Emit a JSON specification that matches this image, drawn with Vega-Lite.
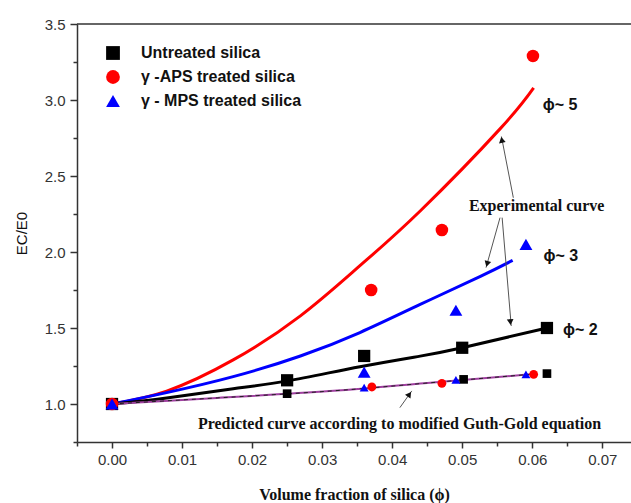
{
  "$schema": "https://vega.github.io/schema/vega-lite/v6.json",
  "width": 554,
  "height": 418,
  "autosize": {"type": "none"},
  "padding": {"left": 77, "top": 24, "right": 0, "bottom": 61},
  "background": "white",
  "config": {"view": {"stroke": null}, "axis": {"grid": false}},
  "datasets": {
    "curves": [
      {"curve": "red", "phi": 0, "ratio": 1.0},
      {"curve": "red", "phi": 0.0078, "ratio": 1.085},
      {"curve": "red", "phi": 0.0173, "ratio": 1.29},
      {"curve": "red", "phi": 0.0269, "ratio": 1.58},
      {"curve": "red", "phi": 0.0354, "ratio": 1.91},
      {"curve": "red", "phi": 0.044, "ratio": 2.27},
      {"curve": "red", "phi": 0.0554, "ratio": 2.81},
      {"curve": "red", "phi": 0.0602, "ratio": 3.08},
      {"curve": "blue", "phi": 0, "ratio": 1.0},
      {"curve": "blue", "phi": 0.0078, "ratio": 1.075},
      {"curve": "blue", "phi": 0.0173, "ratio": 1.18},
      {"curve": "blue", "phi": 0.0269, "ratio": 1.316},
      {"curve": "blue", "phi": 0.0354, "ratio": 1.47},
      {"curve": "blue", "phi": 0.044, "ratio": 1.655},
      {"curve": "blue", "phi": 0.0526, "ratio": 1.84},
      {"curve": "blue", "phi": 0.0572, "ratio": 1.945},
      {"curve": "black", "phi": 0, "ratio": 1.0},
      {"curve": "black", "phi": 0.0078, "ratio": 1.04},
      {"curve": "black", "phi": 0.0173, "ratio": 1.10},
      {"curve": "black", "phi": 0.025, "ratio": 1.152},
      {"curve": "black", "phi": 0.0354, "ratio": 1.245},
      {"curve": "black", "phi": 0.044, "ratio": 1.315},
      {"curve": "black", "phi": 0.05, "ratio": 1.37},
      {"curve": "black", "phi": 0.0621, "ratio": 1.50},
      {"curve": "pred", "phi": 0, "ratio": 1.0},
      {"curve": "pred", "phi": 0.015, "ratio": 1.04},
      {"curve": "pred", "phi": 0.0311, "ratio": 1.085},
      {"curve": "pred", "phi": 0.045, "ratio": 1.138},
      {"curve": "pred", "phi": 0.0597, "ratio": 1.195}
    ],
    "points": [
      {"kind": "exp", "series": "Untreated silica", "phi": 0, "ratio": 1.0},
      {"kind": "exp", "series": "Untreated silica", "phi": 0.025, "ratio": 1.156},
      {"kind": "exp", "series": "Untreated silica", "phi": 0.036, "ratio": 1.316},
      {"kind": "exp", "series": "Untreated silica", "phi": 0.05, "ratio": 1.37},
      {"kind": "exp", "series": "Untreated silica", "phi": 0.0621, "ratio": 1.5},
      {"kind": "exp", "series": "γ -APS treated silica", "phi": 0, "ratio": 1.0},
      {"kind": "exp", "series": "γ -APS treated silica", "phi": 0.037, "ratio": 1.75},
      {"kind": "exp", "series": "γ -APS treated silica", "phi": 0.0471, "ratio": 2.145},
      {"kind": "exp", "series": "γ -APS treated silica", "phi": 0.0601, "ratio": 3.29},
      {"kind": "exp", "series": "γ - MPS treated silica", "phi": 0, "ratio": 1.0},
      {"kind": "exp", "series": "γ - MPS treated silica", "phi": 0.036, "ratio": 1.21},
      {"kind": "exp", "series": "γ - MPS treated silica", "phi": 0.0491, "ratio": 1.617},
      {"kind": "exp", "series": "γ - MPS treated silica", "phi": 0.0591, "ratio": 2.05},
      {"kind": "pred", "series": "Untreated silica", "phi": 0.025, "ratio": 1.068},
      {"kind": "pred", "series": "Untreated silica", "phi": 0.0502, "ratio": 1.162},
      {"kind": "pred", "series": "Untreated silica", "phi": 0.0621, "ratio": 1.2},
      {"kind": "pred", "series": "γ - MPS treated silica", "phi": 0.036, "ratio": 1.107},
      {"kind": "pred", "series": "γ - MPS treated silica", "phi": 0.0491, "ratio": 1.158},
      {"kind": "pred", "series": "γ - MPS treated silica", "phi": 0.0591, "ratio": 1.195},
      {"kind": "pred", "series": "γ -APS treated silica", "phi": 0.0371, "ratio": 1.112},
      {"kind": "pred", "series": "γ -APS treated silica", "phi": 0.0471, "ratio": 1.136},
      {"kind": "pred", "series": "γ -APS treated silica", "phi": 0.0602, "ratio": 1.195}
    ],
    "arrows": [
      {"id": "a1", "phi": 0.0573, "ratio": 2.357, "phi2": 0.0556, "ratio2": 2.76, "hphi": 0.05565, "hratio": 2.7375},
      {"id": "a2", "phi": 0.0554, "ratio": 2.226, "phi2": 0.0534, "ratio2": 1.897, "hphi": 0.05356, "hratio": 1.922},
      {"id": "a3", "phi": 0.0557, "ratio": 2.226, "phi2": 0.057, "ratio2": 1.513, "hphi": 0.05688, "hratio": 1.539},
      {"id": "a4", "phi": 0.0411, "ratio": 0.976, "phi2": 0.0428, "ratio2": 1.086, "hphi": 0.04246, "hratio": 1.064}
    ],
    "phiNotes": [
      {"phi": 0.0615, "ratio": 2.97, "text": "ϕ~ 5"},
      {"phi": 0.0616, "ratio": 1.974, "text": "ϕ~ 3"},
      {"phi": 0.0644, "ratio": 1.485, "text": "ϕ~ 2"}
    ],
    "notes": [
      {"phi": 0.06063, "ratio": 2.303, "text": "Experimental curve"},
      {"phi": 0.04105, "ratio": 0.866, "text": "Predicted curve according to modified Guth-Gold equation"}
    ]
  },
  "resolve": {"axis": {"x": "independent", "y": "independent"}, "scale": {"size": "independent"}},
  "layer": [
    {
      "data": {"values": [{"ratio": 3.5}]},
      "mark": {"type": "rule", "color": "#333333", "strokeWidth": 1.5},
      "encoding": {"y": {"field": "ratio", "type": "quantitative", "scale": {"domain": [0.75, 3.5], "nice": false, "zero": false}, "axis": null}}
    },
    {
      "data": {"name": "curves"},
      "transform": [{"filter": "datum.curve === 'red'"}],
      "mark": {"type": "line", "color": "#ff0000", "strokeWidth": 3, "interpolate": "natural"},
      "encoding": {
        "x": {"field": "phi", "type": "quantitative", "scale": {"domain": [-0.005, 0.0741], "nice": false, "zero": false},
          "axis": {"orient": "bottom", "values": [0, 0.01, 0.02, 0.03, 0.04, 0.05, 0.06, 0.07], "format": ".2f", "title": "Volume fraction of silica (ϕ)",
            "tickSize": 6, "tickWidth": 1.5, "tickColor": "#333333", "domainColor": "#333333", "domainWidth": 1.5,
            "labelFont": "Liberation Sans", "labelFontSize": 15, "labelColor": "#333333", "labelPadding": 4,
            "titleFont": "Liberation Serif", "titleFontSize": 16, "titleFontWeight": "bold", "titleColor": "#111111", "titlePadding": 19}},
        "y": {"field": "ratio", "type": "quantitative", "scale": {"domain": [0.75, 3.5], "nice": false, "zero": false},
          "axis": {"orient": "left", "values": [1, 1.5, 2, 2.5, 3, 3.5], "format": ".1f", "title": "EC/E0",
            "tickSize": 7, "tickWidth": 1.5, "tickColor": "#333333", "domainColor": "#333333", "domainWidth": 1.5,
            "labelFont": "Liberation Sans", "labelFontSize": 15, "labelColor": "#333333", "labelPadding": 5,
            "titleFont": "Liberation Sans", "titleFontSize": 15, "titleFontWeight": "normal", "titleColor": "#111111", "titlePadding": 15}}
      }
    },
    {
      "data": {"name": "curves"},
      "transform": [{"filter": "datum.curve === 'blue'"}],
      "mark": {"type": "line", "color": "#0000ff", "strokeWidth": 3, "interpolate": "natural"},
      "encoding": {
        "x": {"field": "phi", "type": "quantitative", "scale": {"domain": [-0.005, 0.0741], "nice": false, "zero": false}, "axis": null},
        "y": {"field": "ratio", "type": "quantitative", "scale": {"domain": [0.75, 3.5], "nice": false, "zero": false}, "axis": null}
      }
    },
    {
      "data": {"name": "curves"},
      "transform": [{"filter": "datum.curve === 'black'"}],
      "mark": {"type": "line", "color": "#000000", "strokeWidth": 3, "interpolate": "natural"},
      "encoding": {
        "x": {"field": "phi", "type": "quantitative", "scale": {"domain": [-0.005, 0.0741], "nice": false, "zero": false}, "axis": null},
        "y": {"field": "ratio", "type": "quantitative", "scale": {"domain": [0.75, 3.5], "nice": false, "zero": false}, "axis": null}
      }
    },
    {
      "data": {"name": "curves"},
      "transform": [{"filter": "datum.curve === 'pred'"}],
      "mark": {"type": "line", "color": "#a040a0", "strokeWidth": 2, "interpolate": "natural"},
      "encoding": {
        "x": {"field": "phi", "type": "quantitative", "scale": {"domain": [-0.005, 0.0741], "nice": false, "zero": false}, "axis": null},
        "y": {"field": "ratio", "type": "quantitative", "scale": {"domain": [0.75, 3.5], "nice": false, "zero": false}, "axis": null}
      }
    },
    {
      "data": {"name": "curves"},
      "transform": [{"filter": "datum.curve === 'pred'"}],
      "mark": {"type": "line", "color": "#222222", "strokeWidth": 1, "strokeDash": [4, 4], "interpolate": "natural"},
      "encoding": {
        "x": {"field": "phi", "type": "quantitative", "scale": {"domain": [-0.005, 0.0741], "nice": false, "zero": false}, "axis": null},
        "y": {"field": "ratio", "type": "quantitative", "scale": {"domain": [0.75, 3.5], "nice": false, "zero": false}, "axis": null}
      }
    },
    {
      "data": {"name": "arrows"},
      "mark": {"type": "rule", "color": "#555555", "strokeWidth": 1},
      "encoding": {
        "x": {"field": "phi", "type": "quantitative", "scale": {"domain": [-0.005, 0.0741], "nice": false, "zero": false}, "axis": null},
        "y": {"field": "ratio", "type": "quantitative", "scale": {"domain": [0.75, 3.5], "nice": false, "zero": false}, "axis": null},
        "x2": {"field": "phi2"},
        "y2": {"field": "ratio2"}
      }
    },
    {
      "data": {"name": "arrows"},
      "transform": [{"filter": "datum.id === 'a1'"}],
      "mark": {"type": "point", "shape": "triangle-up", "filled": true, "color": "#111111", "opacity": 1, "size": 45, "angle": -11},
      "encoding": {
        "x": {"field": "hphi", "type": "quantitative", "scale": {"domain": [-0.005, 0.0741], "nice": false, "zero": false}, "axis": null},
        "y": {"field": "hratio", "type": "quantitative", "scale": {"domain": [0.75, 3.5], "nice": false, "zero": false}, "axis": null}
      }
    },
    {
      "data": {"name": "arrows"},
      "transform": [{"filter": "datum.id === 'a2'"}],
      "mark": {"type": "point", "shape": "triangle-up", "filled": true, "color": "#111111", "opacity": 1, "size": 45, "angle": 196},
      "encoding": {
        "x": {"field": "hphi", "type": "quantitative", "scale": {"domain": [-0.005, 0.0741], "nice": false, "zero": false}, "axis": null},
        "y": {"field": "hratio", "type": "quantitative", "scale": {"domain": [0.75, 3.5], "nice": false, "zero": false}, "axis": null}
      }
    },
    {
      "data": {"name": "arrows"},
      "transform": [{"filter": "datum.id === 'a3'"}],
      "mark": {"type": "point", "shape": "triangle-up", "filled": true, "color": "#111111", "opacity": 1, "size": 45, "angle": 175},
      "encoding": {
        "x": {"field": "hphi", "type": "quantitative", "scale": {"domain": [-0.005, 0.0741], "nice": false, "zero": false}, "axis": null},
        "y": {"field": "hratio", "type": "quantitative", "scale": {"domain": [0.75, 3.5], "nice": false, "zero": false}, "axis": null}
      }
    },
    {
      "data": {"name": "arrows"},
      "transform": [{"filter": "datum.id === 'a4'"}],
      "mark": {"type": "point", "shape": "triangle-up", "filled": true, "color": "#111111", "opacity": 1, "size": 45, "angle": 35},
      "encoding": {
        "x": {"field": "hphi", "type": "quantitative", "scale": {"domain": [-0.005, 0.0741], "nice": false, "zero": false}, "axis": null},
        "y": {"field": "hratio", "type": "quantitative", "scale": {"domain": [0.75, 3.5], "nice": false, "zero": false}, "axis": null}
      }
    },
    {
      "data": {"name": "phiNotes"},
      "mark": {"type": "text", "align": "left", "baseline": "middle", "font": "Liberation Sans", "fontSize": 16, "fontWeight": "bold", "color": "#111111"},
      "encoding": {
        "x": {"field": "phi", "type": "quantitative", "scale": {"domain": [-0.005, 0.0741], "nice": false, "zero": false}, "axis": null},
        "y": {"field": "ratio", "type": "quantitative", "scale": {"domain": [0.75, 3.5], "nice": false, "zero": false}, "axis": null},
        "text": {"field": "text"}
      }
    },
    {
      "data": {"name": "notes"},
      "mark": {"type": "text", "align": "center", "baseline": "middle", "font": "Liberation Serif", "fontSize": 16, "fontWeight": "bold", "color": "#111111"},
      "encoding": {
        "x": {"field": "phi", "type": "quantitative", "scale": {"domain": [-0.005, 0.0741], "nice": false, "zero": false}, "axis": null},
        "y": {"field": "ratio", "type": "quantitative", "scale": {"domain": [0.75, 3.5], "nice": false, "zero": false}, "axis": null},
        "text": {"field": "text"}
      }
    },
    {
      "data": {"name": "points"},
      "transform": [{"filter": "datum.kind === 'pred'"}],
      "mark": {"type": "point", "filled": true, "opacity": 1},
      "encoding": {
        "x": {"field": "phi", "type": "quantitative", "scale": {"domain": [-0.005, 0.0741], "nice": false, "zero": false}, "axis": null},
        "y": {"field": "ratio", "type": "quantitative", "scale": {"domain": [0.75, 3.5], "nice": false, "zero": false}, "axis": null},
        "color": {"field": "series", "type": "nominal", "scale": {"domain": ["Untreated silica", "γ -APS treated silica", "γ - MPS treated silica"], "range": ["#000000", "#ff0000", "#0000ff"]},
          "legend": {"orient": "none", "legendX": 28, "legendY": 21, "title": null, "padding": 0, "labelFont": "Liberation Sans", "labelFontSize": 16, "labelFontWeight": "bold", "labelColor": "#111111", "labelLimit": 400,
            "symbolSize": 190, "labelOffset": 20, "rowPadding": 8, "symbolStrokeWidth": 0}},
        "shape": {"field": "series", "type": "nominal", "scale": {"domain": ["Untreated silica", "γ -APS treated silica", "γ - MPS treated silica"], "range": ["square", "circle", "triangle-up"]}},
        "size": {"field": "series", "type": "nominal", "scale": {"domain": ["Untreated silica", "γ -APS treated silica", "γ - MPS treated silica"], "range": [75, 80, 105]}, "legend": null}
      }
    },
    {
      "data": {"name": "points"},
      "transform": [{"filter": "datum.kind === 'exp'"}],
      "mark": {"type": "point", "filled": true, "opacity": 1},
      "encoding": {
        "x": {"field": "phi", "type": "quantitative", "scale": {"domain": [-0.005, 0.0741], "nice": false, "zero": false},
          "axis": {"orient": "bottom", "values": [-0.005, 0.005, 0.015, 0.025, 0.035, 0.045, 0.055, 0.065], "labels": false, "title": null, "domain": false,
            "tickSize": 4, "tickWidth": 1.5, "tickColor": "#333333"}},
        "y": {"field": "ratio", "type": "quantitative", "scale": {"domain": [0.75, 3.5], "nice": false, "zero": false},
          "axis": {"orient": "left", "values": [0.75, 1.25, 1.75, 2.25, 2.75, 3.25], "labels": false, "title": null, "domain": false,
            "tickSize": 4, "tickWidth": 1.5, "tickColor": "#333333"}},
        "color": {"field": "series", "type": "nominal", "scale": {"domain": ["Untreated silica", "γ -APS treated silica", "γ - MPS treated silica"], "range": ["#000000", "#ff0000", "#0000ff"]},
          "legend": {"orient": "none", "legendX": 28, "legendY": 21, "title": null, "padding": 0, "labelFont": "Liberation Sans", "labelFontSize": 16, "labelFontWeight": "bold", "labelColor": "#111111", "labelLimit": 400,
            "symbolSize": 190, "labelOffset": 20, "rowPadding": 8, "symbolStrokeWidth": 0}},
        "shape": {"field": "series", "type": "nominal", "scale": {"domain": ["Untreated silica", "γ -APS treated silica", "γ - MPS treated silica"], "range": ["square", "circle", "triangle-up"]}},
        "size": {"field": "series", "type": "nominal", "scale": {"domain": ["Untreated silica", "γ -APS treated silica", "γ - MPS treated silica"], "range": [150, 165, 240]}, "legend": null}
      }
    }
  ]
}
